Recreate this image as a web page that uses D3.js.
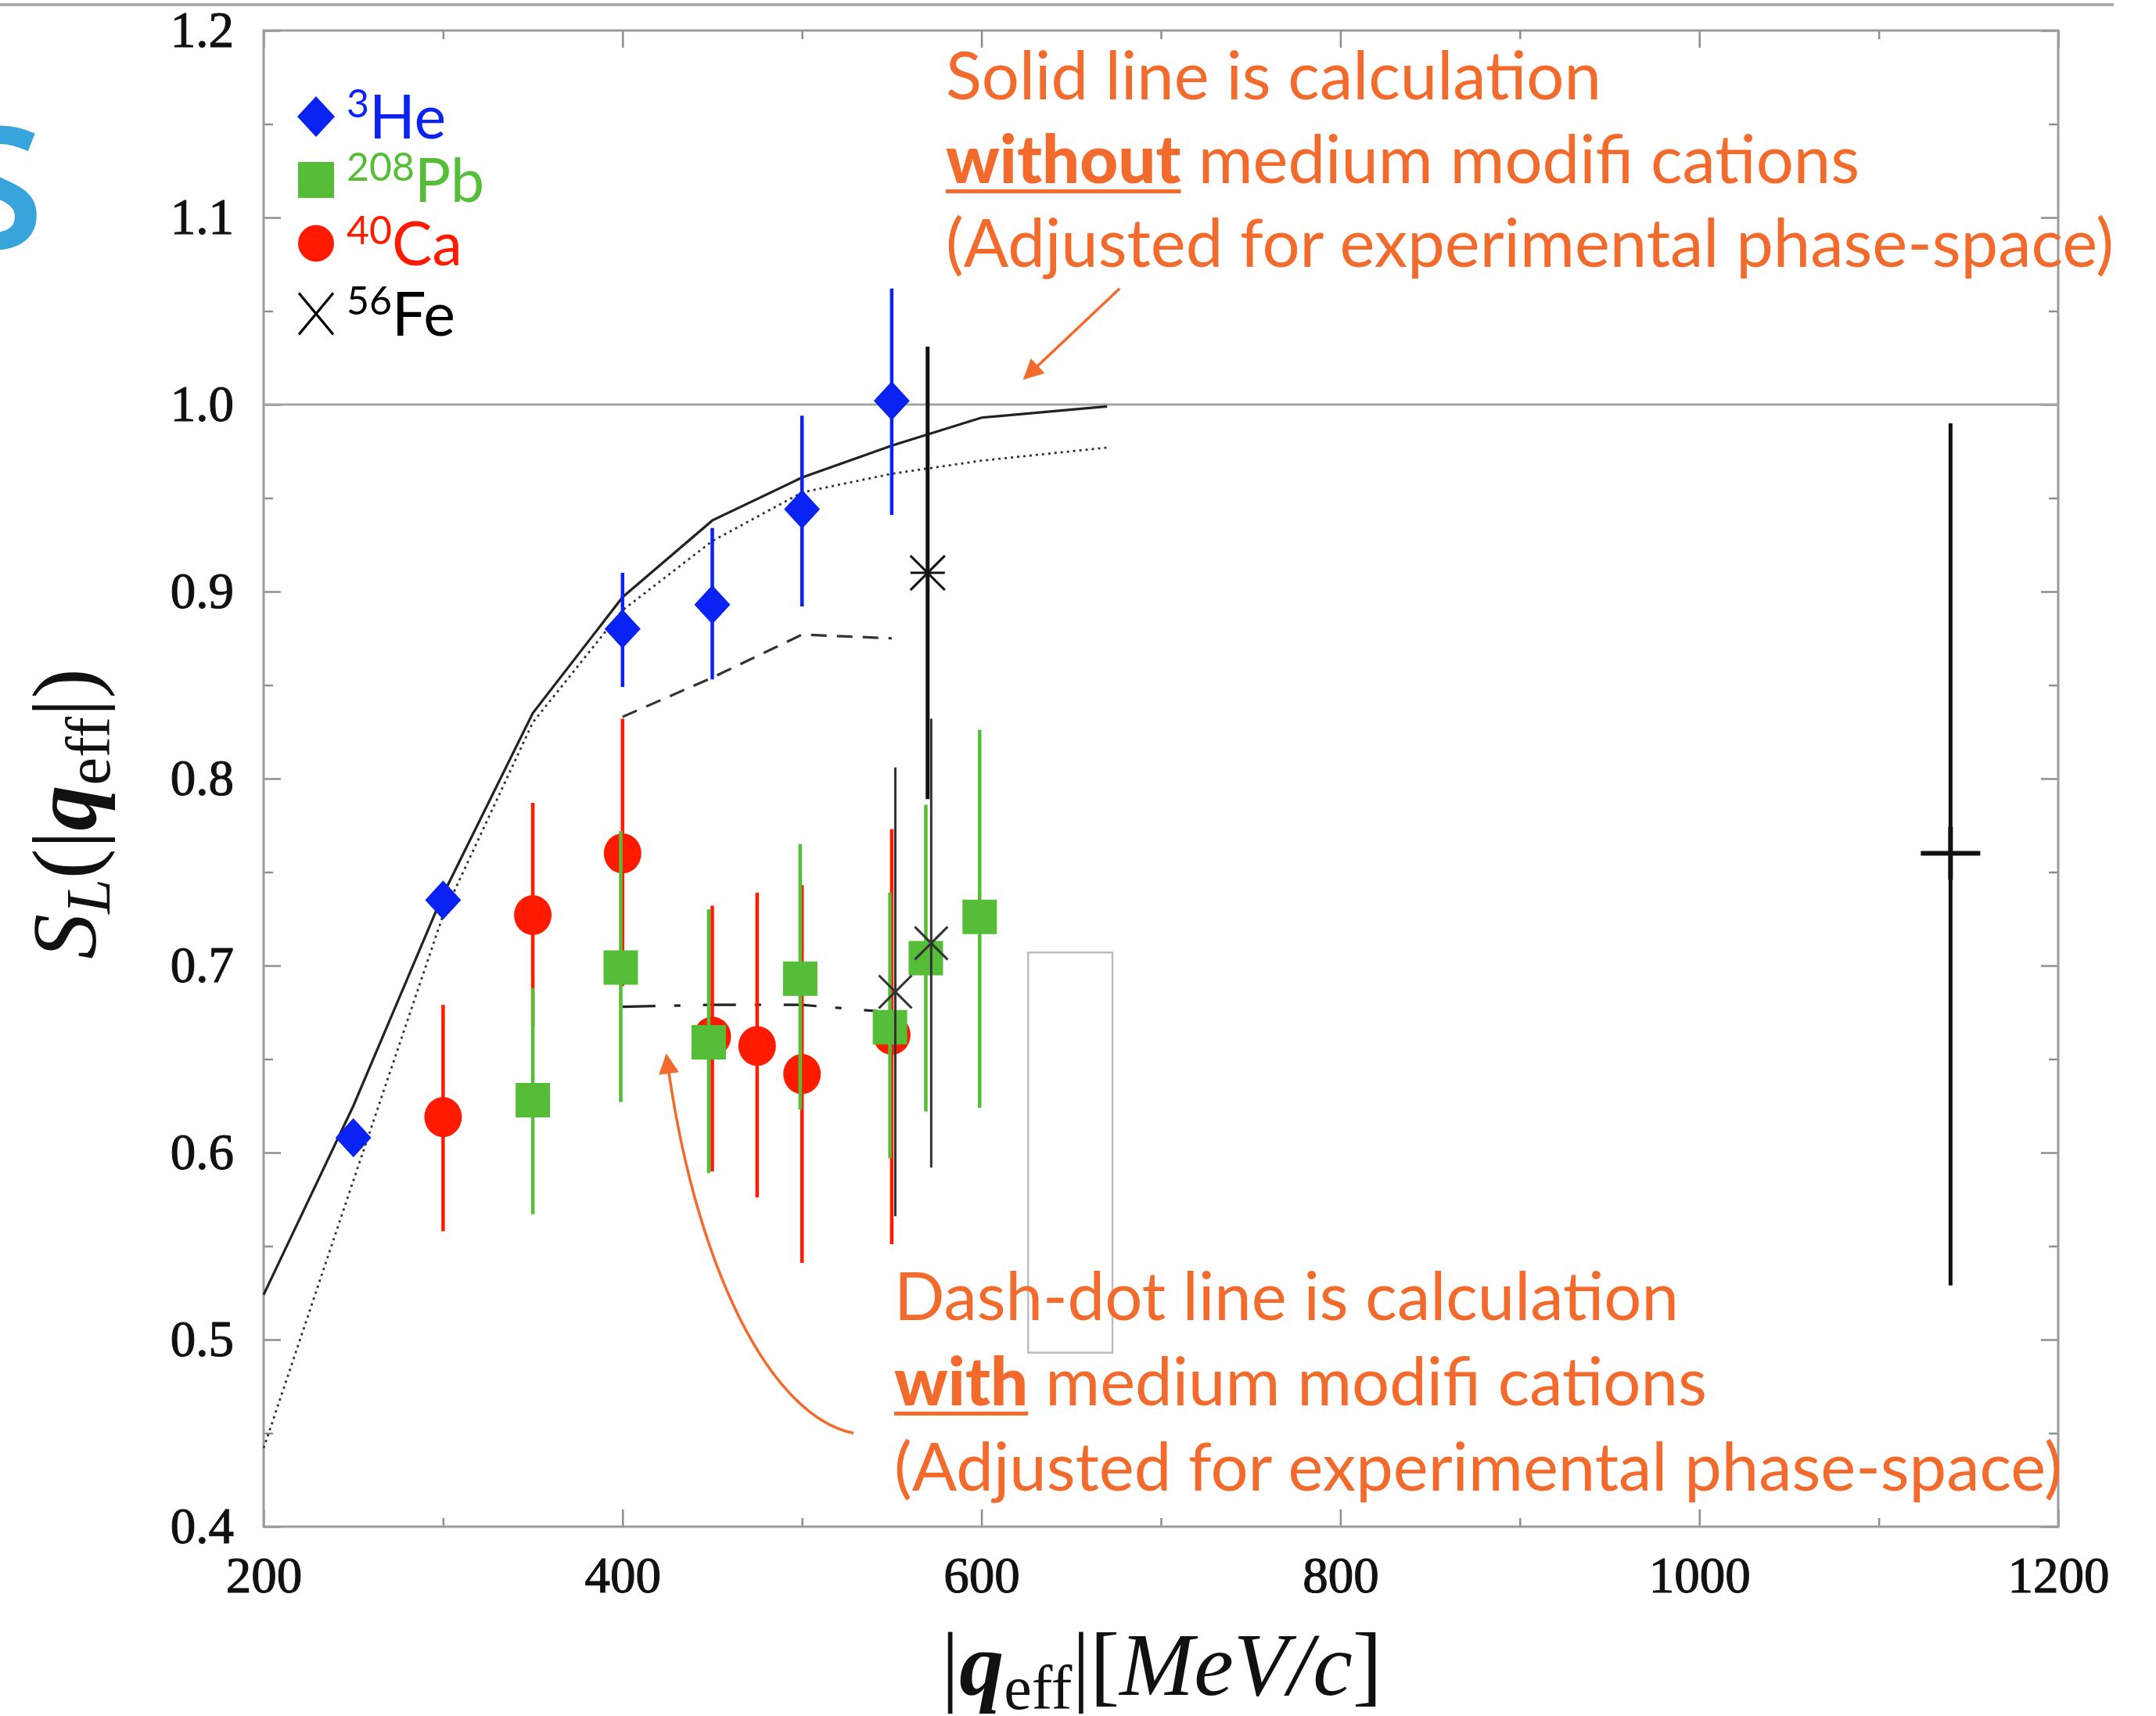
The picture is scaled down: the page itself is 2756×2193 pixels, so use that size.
<!DOCTYPE html>
<html>
<head>
<meta charset="utf-8">
<title>S_L versus q_eff</title>
<script src="https://cdn.jsdelivr.net/npm/d3@7"></script>
<style>
	body { margin: 0; background: #fff; }
	svg { display: block; background: #fff; }
	.frame { fill: none; stroke: #9b9b9b; stroke-width: 3px; }
	.axis path { display: none; }
	.axis line { stroke: #8e8e8e; stroke-width: 2.5px; }
	.axis text { font-family: 'Liberation Serif', 'DejaVu Serif', serif; font-size: 65px; fill: #111; stroke: #111; stroke-width: 1.1px; }
	.math { font-family: 'Liberation Serif', 'DejaVu Serif', serif; fill: #111; }
	.note { font-family: Lato, 'Noto Sans', sans-serif; fill: #f26a2c; }
	.legend-text { font-family: Lato, 'Noto Sans', sans-serif; font-size: 77px; }
</style>
</head>
<body>
<svg width="2756" height="2193"></svg>
<script>
//Tick values. Major ticks carry labels, minor ticks sit half way between.
var xTicks = [200, 400, 600, 800, 1000, 1200],
	xMinor = [300, 500, 700, 900, 1100],
	yTicks = [0.4, 0.5, 0.6, 0.7, 0.8, 0.9, 1.0, 1.1, 1.2],
	yMinor = [0.45, 0.55, 0.65, 0.75, 0.85, 0.95, 1.05, 1.15];

//3He, blue diamonds. The two lowest points show no error bar.
var heQ = [250, 300, 400, 450, 500, 550],
	heS = [0.608, 0.735, 0.880, 0.893, 0.944, 1.002],
	heLo = [null, null, 0.849, 0.853, 0.892, 0.941],
	heHi = [null, null, 0.910, 0.934, 0.994, 1.062];
//208Pb, green squares.
var pbQ = [350, 399, 448, 499, 549, 569, 599],
	pbS = [0.628, 0.699, 0.659, 0.693, 0.667, 0.704, 0.726],
	pbLo = [0.567, 0.627, 0.589, 0.623, 0.597, 0.622, 0.624],
	pbHi = [0.688, 0.772, 0.730, 0.765, 0.739, 0.786, 0.826];
//40Ca, red circles.
var caQ = [300, 350, 400, 450, 475, 500, 550],
	caS = [0.619, 0.727, 0.760, 0.662, 0.657, 0.642, 0.663],
	caLo = [0.558, 0.667, 0.689, 0.590, 0.576, 0.541, 0.551],
	caHi = [0.679, 0.787, 0.832, 0.732, 0.739, 0.743, 0.773];
//56Fe, black crosses.
var feQ = [552, 572],
	feS = [0.686, 0.712],
	feLo = [0.566, 0.592],
	feHi = [0.806, 0.832];
//Single points drawn as an asterisk and as a plus.
var starQ = [570], starS = [0.910], starLo = [0.789], starHi = [1.031];
var plusQ = [1140], plusS = [0.760], plusLo = [0.529], plusHi = [0.990];

//Calculations without medium modifications: solid and dotted.
var calcQ = [200, 250, 300, 350, 400, 450, 500, 550, 600, 670],
	solidS = [0.524, 0.625, 0.738, 0.835, 0.897, 0.938, 0.961, 0.978, 0.993, 0.999],
	dottedS = [0.442, 0.585, 0.727, 0.830, 0.890, 0.927, 0.953, 0.963, 0.970, 0.977];
//Calculations with medium modifications: dashed and dash-dot.
var medQ = [400, 450, 500, 550],
	dashedS = [0.833, 0.854, 0.877, 0.875],
	dashDotS = [0.678, 0.679, 0.679, 0.675];
//Stray grey box in the figure (corners in data units).
var boxQ = [626, 673], boxS = [0.493, 0.707];

//Legend labels.
var legendMass = ['3', '208', '40', '56'],
	legendName = ['He', 'Pb', 'Ca', 'Fe'];

//Orange notes: [bold underlined lead word, rest of line].
var noteTop = [['', 'Solid line is calculation'], ['without', 'medium modifi cations'], ['', '(Adjusted for experimental phase-space)']];
var noteBottom = [['', 'Dash-dot line is calculation'], ['with', 'medium modifi cations'], ['', '(Adjusted for experimental phase-space)']];

var blue = '#0a22f2', green = '#55bd38', red = '#ff1a00', orange = '#f26a2c';

var svg = d3.select('svg'),
	width = +svg.attr('width'), height = +svg.attr('height');
var margin = {top: 39, right: 125, bottom: 242, left: 337};
var widthInner = width - margin.left - margin.right,
	heightInner = height - margin.top - margin.bottom;
var inner = svg.append('g')
	.attr('transform', 'translate(' + margin.left + ',' + margin.top + ')');

var xScale = d3.scaleLinear().domain([200, 1200]).range([0, widthInner]);
var yScale = d3.scaleLinear().domain([0.4, 1.2]).range([heightInner, 0]);

//Grey rule along the top of the slide and the clipped blue letter on the left.
svg.append('rect')
	.attr('x', 0).attr('y', 4).attr('width', 2702).attr('height', 4)
	.style('fill', '#a9acab');
svg.append('text')
	.text('S')
	.attr('x', 56).attr('y', 318)
	.attr('text-anchor', 'end')
	.style('font-family', "'Noto Sans', sans-serif")
	.style('font-size', '218px')
	.style('font-weight', 600)
	.style('fill', '#37a4db');

//Axes: ticks point inwards on all four sides.
inner.append('g').attr('class', 'axis')
	.call(d3.axisLeft(yScale).tickValues(yTicks).tickSize(-22).tickPadding(38).tickFormat(d3.format('.1f')));
inner.append('g').attr('class', 'axis')
	.call(d3.axisLeft(yScale).tickValues(yMinor).tickSize(-12).tickFormat(''));
inner.append('g').attr('class', 'axis')
	.attr('transform', 'translate(' + widthInner + ',0)')
	.call(d3.axisRight(yScale).tickValues(yTicks).tickSize(-22).tickFormat(''));
inner.append('g').attr('class', 'axis')
	.attr('transform', 'translate(' + widthInner + ',0)')
	.call(d3.axisRight(yScale).tickValues(yMinor).tickSize(-12).tickFormat(''));
inner.append('g').attr('class', 'axis')
	.attr('transform', 'translate(0,' + heightInner + ')')
	.call(d3.axisBottom(xScale).tickValues(xTicks).tickSize(-22).tickPadding(38).tickFormat(d3.format('d')));
inner.append('g').attr('class', 'axis')
	.attr('transform', 'translate(0,' + heightInner + ')')
	.call(d3.axisBottom(xScale).tickValues(xMinor).tickSize(-11).tickFormat(''));
inner.append('g').attr('class', 'axis')
	.call(d3.axisTop(xScale).tickValues(xTicks).tickSize(-22).tickFormat(''));
inner.append('g').attr('class', 'axis')
	.call(d3.axisTop(xScale).tickValues(xMinor).tickSize(-11).tickFormat(''));

inner.append('rect')
	.attr('class', 'frame')
	.attr('width', widthInner)
	.attr('height', heightInner);

//Reference line at S_L = 1.
inner.append('line')
	.attr('x1', 0).attr('x2', widthInner)
	.attr('y1', yScale(1.0)).attr('y2', yScale(1.0))
	.style('stroke', '#a3a3a3').style('stroke-width', '3px');

inner.append('rect')
	.attr('x', xScale(boxQ[0]))
	.attr('y', yScale(boxS[1]))
	.attr('width', xScale(boxQ[1]) - xScale(boxQ[0]))
	.attr('height', yScale(boxS[0]) - yScale(boxS[1]))
	.style('fill', 'none').style('stroke', '#bdbdbd').style('stroke-width', '2.5px');

//Theory curves, under the data.
function curve(q, s, dash, color, w) {
	var line = d3.line()
		.x(function(d) { return xScale(d[0]); })
		.y(function(d) { return yScale(d[1]); });
	inner.append('path')
		.datum(d3.zip(q, s))
		.attr('d', line)
		.style('fill', 'none')
		.style('stroke', color)
		.style('stroke-width', w + 'px')
		.style('stroke-dasharray', dash);
}
curve(calcQ, dottedS, '3,5', '#333', 2.8);
curve(calcQ, solidS, null, '#222', 3.2);
curve(medQ, dashedS, '20,13', '#333', 3.2);
curve(medQ, dashDotS, '42,24,8,29', '#222', 3.2);

//Data rows from the parallel arrays.
function rows(q, s, lo, hi) {
	return q.map(function(v, i) { return {q: v, s: s[i], lo: lo[i], hi: hi[i]}; });
}
function errorBars(data, color, w) {
	inner.append('g').selectAll('line')
		.data(data.filter(function(d) { return d.lo != null; }))
		.enter().append('line')
		.attr('x1', function(d) { return xScale(d.q); })
		.attr('x2', function(d) { return xScale(d.q); })
		.attr('y1', function(d) { return yScale(d.lo); })
		.attr('y2', function(d) { return yScale(d.hi); })
		.style('stroke', color)
		.style('stroke-width', w + 'px');
}

//Marker shapes, centred on (x, y) in pixels.
function diamondPath(x, y, w, h) {
	var p = d3.path();
	p.moveTo(x, y - h); p.lineTo(x + w, y); p.lineTo(x, y + h); p.lineTo(x - w, y); p.closePath();
	return p.toString();
}
function squarePath(x, y, r) {
	var p = d3.path();
	p.rect(x - r, y - r, 2 * r, 2 * r);
	return p.toString();
}
function crossPath(x, y, r, withBar) {
	var p = d3.path();
	p.moveTo(x - r, y - r); p.lineTo(x + r, y + r);
	p.moveTo(x - r, y + r); p.lineTo(x + r, y - r);
	if (withBar) { p.moveTo(x - r, y); p.lineTo(x + r, y); }
	return p.toString();
}

var caRows = rows(caQ, caS, caLo, caHi),
	pbRows = rows(pbQ, pbS, pbLo, pbHi),
	feRows = rows(feQ, feS, feLo, feHi),
	heRows = rows(heQ, heS, heLo, heHi),
	starRows = rows(starQ, starS, starLo, starHi),
	plusRows = rows(plusQ, plusS, plusLo, plusHi);

errorBars(caRows, red, 4.5);
inner.append('g').selectAll('ellipse')
	.data(caRows).enter().append('ellipse')
	.attr('cx', function(d) { return xScale(d.q); })
	.attr('cy', function(d) { return yScale(d.s); })
	.attr('rx', 24).attr('ry', 25.5)
	.style('fill', red);

errorBars(pbRows, green, 4.5);
inner.append('g').selectAll('path')
	.data(pbRows).enter().append('path')
	.attr('d', function(d) { return squarePath(xScale(d.q), yScale(d.s), 22); })
	.style('fill', green);

errorBars(feRows, '#333', 3);
inner.append('g').selectAll('path')
	.data(feRows).enter().append('path')
	.attr('d', function(d) { return crossPath(xScale(d.q), yScale(d.s), 21, false); })
	.style('fill', 'none').style('stroke', '#333').style('stroke-width', '3px');

errorBars(starRows, '#111', 5);
inner.append('g').selectAll('path')
	.data(starRows).enter().append('path')
	.attr('d', function(d) { return crossPath(xScale(d.q), yScale(d.s), 22, true); })
	.style('fill', 'none').style('stroke', '#111').style('stroke-width', '3px');

errorBars(plusRows, '#111', 5);
inner.append('g').selectAll('path')
	.data(plusRows).enter().append('path')
	.attr('d', function(d) {
		var x = xScale(d.q), y = yScale(d.s), p = d3.path();
		p.moveTo(x - 38, y); p.lineTo(x + 38, y);
		p.moveTo(x, y - 34); p.lineTo(x, y + 34);
		return p.toString();
	})
	.style('fill', 'none').style('stroke', '#111').style('stroke-width', '6px');

errorBars(heRows, blue, 4.5);
inner.append('g').selectAll('path')
	.data(heRows).enter().append('path')
	.attr('d', function(d) { return diamondPath(xScale(d.q), yScale(d.s), 23, 25); })
	.style('fill', blue);

//Legend, top left inside the frame.
var legendY = [149, 230, 311, 401], legendX = 404;
var legendColor = [blue, green, red, '#000'];
svg.append('path').attr('d', diamondPath(legendX, legendY[0], 24, 26)).style('fill', blue);
svg.append('path').attr('d', squarePath(legendX, legendY[1], 23)).style('fill', green);
svg.append('ellipse').attr('cx', legendX).attr('cy', legendY[2]).attr('rx', 23).attr('ry', 23.5).style('fill', red);
svg.append('path').attr('d', crossPath(legendX, legendY[3], 22, false))
	.attr('transform', 'translate(' + legendX + ',' + legendY[3] + ') scale(1,1.2) translate(' + (-legendX) + ',' + (-legendY[3]) + ')')
	.style('fill', 'none').style('stroke', '#000').style('stroke-width', '3px');
legendName.forEach(function(name, i) {
	var t = svg.append('text')
		.attr('class', 'legend-text')
		.attr('x', legendX + 39)
		.attr('y', legendY[i] + 28)
		.style('fill', legendColor[i]);
	t.append('tspan').text(legendMass[i]).attr('font-size', '50px').attr('dy', -27);
	t.append('tspan').text(name).attr('dy', 27);
});

//Orange notes. The lead word is bold and underlined.
function fitSize(str, target) {
	var t = svg.append('text').attr('class', 'note').style('font-size', '100px').text(str);
	var w = t.node().getComputedTextLength();
	t.remove();
	return 100 * target / w;
}
function note(lines, x, y0, step, size) {
	lines.forEach(function(line, i) {
		var y = y0 + i * step, xx = x;
		if (line[0]) {
			var b = svg.append('text')
				.attr('class', 'note')
				.attr('x', x).attr('y', y)
				.style('font-size', size + 'px')
				.style('font-weight', 900)
				.text(line[0]);
			var bw = b.node().getComputedTextLength();
			svg.append('rect')
				.attr('x', x).attr('y', y + 8)
				.attr('width', bw).attr('height', 5)
				.style('fill', orange);
			xx = x + bw + size * 0.26;
		}
		svg.append('text')
			.attr('class', 'note')
			.attr('x', xx).attr('y', y)
			.style('font-size', size + 'px')
			.text(line[1]);
	});
}
var noteSize = fitSize(noteTop[2][1], 1493);
note(noteTop, 1209, 127, 107, noteSize);
note(noteBottom, 1143, 1687, 109, noteSize);

//Arrows from the notes to the curves, anchored in data units.
svg.append('defs').append('marker')
	.attr('id', 'head')
	.attr('viewBox', '0 0 10 10')
	.attr('refX', 9).attr('refY', 5)
	.attr('markerUnits', 'userSpaceOnUse')
	.attr('markerWidth', 30).attr('markerHeight', 26)
	.attr('orient', 'auto')
	.append('path').attr('d', 'M0,0L10,5L0,10Z').style('fill', orange);
inner.append('line')
	.attr('x1', xScale(677)).attr('y1', yScale(1.062))
	.attr('x2', xScale(624)).attr('y2', yScale(1.014))
	.attr('marker-end', 'url(#head)')
	.style('stroke', orange).style('stroke-width', '3.5px');
var bend = d3.path();
bend.moveTo(xScale(528.7), yScale(0.450));
bend.bezierCurveTo(xScale(482), yScale(0.459), xScale(439.8), yScale(0.540), xScale(424.5), yScale(0.652));
inner.append('path')
	.attr('d', bend.toString())
	.attr('marker-end', 'url(#head)')
	.style('fill', 'none').style('stroke', orange).style('stroke-width', '3.5px');

//Axis titles.
var yTitle = svg.append('text')
	.attr('class', 'math')
	.attr('transform', 'translate(122,1040) rotate(-90)')
	.attr('text-anchor', 'middle')
	.style('font-size', '116px');
yTitle.append('tspan').text('S').style('font-style', 'italic');
yTitle.append('tspan').text('L').style('font-style', 'italic').attr('font-size', '80px').attr('dy', 18);
yTitle.append('tspan').text('(|').attr('dy', -18);
yTitle.append('tspan').text('q').style('font-style', 'italic').style('font-weight', 'bold');
yTitle.append('tspan').text('eff').attr('font-size', '80px').attr('dy', 18);
yTitle.append('tspan').text('|)').attr('dy', -18);

var xTitle = svg.append('text')
	.attr('class', 'math')
	.attr('x', 1485).attr('y', 2166)
	.attr('text-anchor', 'middle')
	.style('font-size', '114px');
xTitle.append('tspan').text('|');
xTitle.append('tspan').text('q').style('font-style', 'italic').style('font-weight', 'bold');
xTitle.append('tspan').text('eff').attr('font-size', '80px').attr('dy', 18);
xTitle.append('tspan').text('|[').attr('dy', -18);
xTitle.append('tspan').text('MeV/c').style('font-style', 'italic');
xTitle.append('tspan').text(']');
</script>
</body>
</html>
